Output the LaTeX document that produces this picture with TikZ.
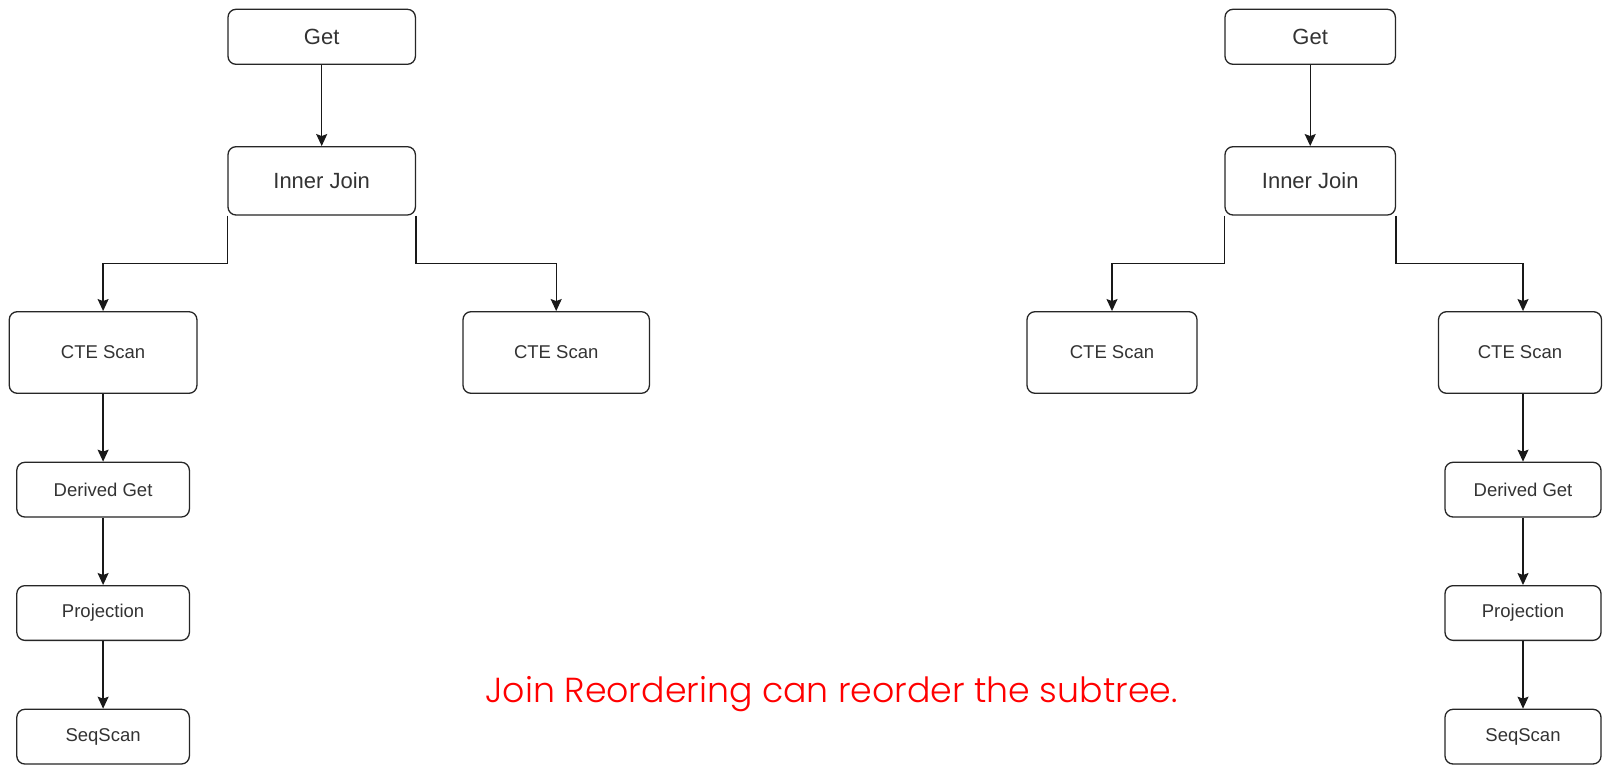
\documentclass[tikz,border=0pt]{standalone}
\usepackage{fontspec}
\usepackage{graphicx}
\setmainfont{Liberation Sans}
\newfontfamily\notefont{Poppins}[UprightFont=* Light]
\usetikzlibrary{arrows.meta}
\definecolor{boxtext}{HTML}{333333}
\tikzset{
  opbox/.style={draw=black!85, line width=1.3pt, rounded corners=8pt, fill=white,
    inner sep=0pt, text=boxtext, font=\fontsize{18.5}{20}\selectfont},
  bigop/.style={opbox, font=\fontsize{22}{24}\selectfont},
  conn/.style={draw=black!90, line width=1.3pt, -{Stealth[length=12pt,width=11pt,inset=2pt]}},
}
\begin{document}
\begin{tikzpicture}[x=1pt,y=-1pt]
\useasboundingbox (0,0) rectangle (1603,765);
% ---------- left tree ----------
\node[bigop, minimum width=187.4pt, minimum height=55pt] (lget) at (321.7,36.8) {Get};
\node[bigop, minimum width=187.4pt, minimum height=68.3pt] (lij) at (321.7,180.85) {Inner Join};
\node[opbox, minimum width=187.7pt, minimum height=81.6pt] (lcte1) at (103.1,352.5) {CTE Scan};
\node[opbox, minimum width=186.4pt, minimum height=81.6pt] (lcte2) at (556.2,352.5) {CTE Scan};
\node[opbox, minimum width=172.6pt, minimum height=54.7pt] (lder) at (103.1,489.65) {Derived Get};
\node[opbox, minimum width=172.6pt, minimum height=54.7pt] (lproj) at (103.1,613) {Projection};
\node[opbox, minimum width=172.6pt, minimum height=54.7pt] (lseq) at (103.1,736.65) {SeqScan};
\draw[conn] (lget) -- (lij);
\draw[conn] (lij.south west) -- ++(0,48) -| (lcte1.north);
\draw[conn] (lij.south east) -- ++(0,48) -| (lcte2.north);
\draw[conn] (lcte1) -- (lder);
\draw[conn] (lder) -- (lproj);
\draw[conn] (lproj) -- (lseq);
% ---------- right tree ----------
\node[bigop, minimum width=170.4pt, minimum height=55pt] (rget) at (1310.2,36.8) {Get};
\node[bigop, minimum width=170.4pt, minimum height=68.3pt] (rij) at (1310.2,180.85) {Inner Join};
\node[opbox, minimum width=170pt, minimum height=81.6pt] (rcte1) at (1112,352.5) {CTE Scan};
\node[opbox, minimum width=163pt, minimum height=81.6pt] (rcte2) at (1520,352.5) {CTE Scan};
\node[opbox, minimum width=156pt, minimum height=54.7pt] (rder) at (1523,489.65) {Derived Get};
\node[opbox, minimum width=156pt, minimum height=54.7pt] (rproj) at (1523,613) {Projection};
\node[opbox, minimum width=156pt, minimum height=54.7pt] (rseq) at (1523,736.65) {SeqScan};
\draw[conn] (rget) -- (rij);
\draw[conn] (rij.south west) -- ++(0,48) -| (rcte1.north);
\draw[conn] (rij.south east) -- ++(0,48) -| (rcte2.north -| rder.north);
\draw[conn] (rcte2.south -| rder.north) -- (rder);
\draw[conn] (rder) -- (rproj);
\draw[conn] (rproj) -- (rseq);
% ---------- note ----------
\node[anchor=base, inner sep=0pt, text=red] (note) at (831.6,702.7)
  {\resizebox{692pt}{!}{\notefont\fontsize{30}{32}\selectfont Join Reordering can reorder the subtree.}};
\end{tikzpicture}
\end{document}
